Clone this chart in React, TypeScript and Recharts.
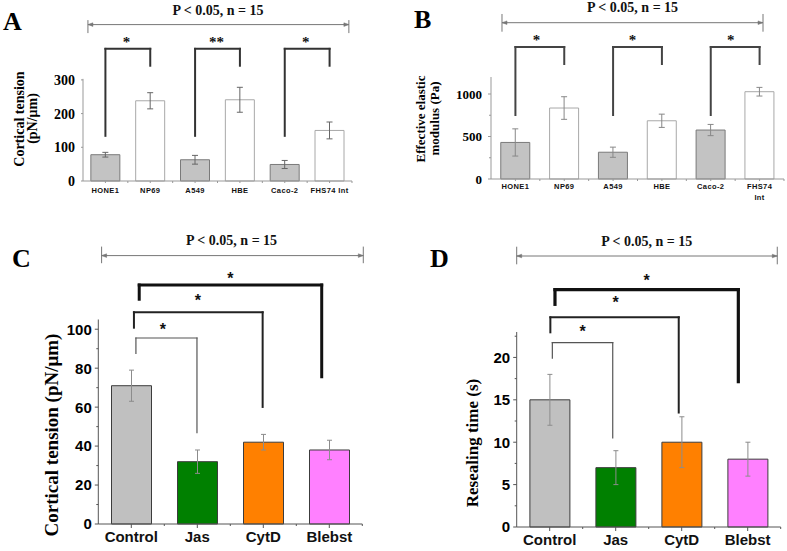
import React from 'react';
import { ComposedChart, Bar, Cell, ErrorBar, XAxis, YAxis, ReferenceLine, Scatter } from 'recharts';

// panel A: cortical tension of cell lines
const cellLinesA = ['HONE1', 'NP69', 'A549', 'HBE', 'Caco-2', 'FHS74 Int'];
const tensionA = [78, 238, 63, 241, 49, 150];
const tensionAErr = [7, 24, 13, 37, 12, 25];
const ticksA = [0, 100, 200, 300];

// panel B: effective elastic modulus
const cellLinesB = ['HONE1', 'NP69', 'A549', 'HBE', 'Caco-2', 'FHS74\nInt'];
const modulusB = [430, 835, 315, 685, 576, 1027];
const modulusBErr = [160, 133, 60, 78, 66, 51];
const ticksB = [0, 250, 500, 750, 1000];

// panels C and D: drug treatments
const treatments = ['Control', 'Jas', 'CytD', 'Blebst'];
const tensionC = [71, 32, 42, 38];
const tensionCErr = [8, 6, 4, 5];
const ticksC = [0, 10, 20, 30, 40, 50, 60, 70, 80, 90, 100];
const resealD = [15, 7, 10, 8];
const resealDErr = [3, 2, 3, 2];
const ticksD = [0, 2.5, 5, 7.5, 10, 12.5, 15, 17.5, 20, 22.5];

const pTitle = 'P < 0.05, n = 15';

const SERIF = '"Liberation Serif", "Times New Roman", serif';
const SANS = '"Liberation Sans", Arial, sans-serif';

const pairFills = ['#c3c3c3', '#ffffff', '#c3c3c3', '#ffffff', '#c3c3c3', '#ffffff'];
const pairStrokes = ['#7a7a7a', '#a8a8a8', '#7a7a7a', '#a8a8a8', '#7a7a7a', '#a8a8a8'];
const drugFills = ['#c0c0c0', '#008000', '#ff8000', '#ff80ff'];
const drugStrokes = ['#3c3c3c', '#3c3c3c', '#3c3c3c', '#3c3c3c'];

const rows = (names: string[], vals: number[], errs: number[]) =>
  names.map((name, i) => ({ name, value: vals[i], err: errs[i] }));

type Bracket = { xa: number; xb: number; ya: number; yb: number; top: number; w: number; color: string };
type Mark = { x: number; y: number; label: string };

// significance brackets, in axis units (x: category index, y: value units)
const bracketsA: Bracket[] = [
  { xa: 0, xb: 1, ya: 134, yb: 342, top: 392, w: 2, color: '#333' },
  { xa: 2, xb: 3, ya: 134, yb: 342, top: 392, w: 2, color: '#333' },
  { xa: 4, xb: 5, ya: 134, yb: 342, top: 392, w: 2, color: '#333' },
];
const starsA: Mark[] = [
  { x: 0.47, y: 418, label: '*' },
  { x: 2.48, y: 418, label: '**' },
  { x: 4.47, y: 418, label: '*' },
];
const bracketsB: Bracket[] = [
  { xa: 0, xb: 1, ya: 753, yb: 1353, top: 1553, w: 2, color: '#444' },
  { xa: 2, xb: 3, ya: 753, yb: 1353, top: 1553, w: 2, color: '#444' },
  { xa: 4, xb: 5, ya: 753, yb: 1353, top: 1553, w: 2, color: '#444' },
];
const starsB: Mark[] = [
  { x: 0.43, y: 1658, label: '*' },
  { x: 2.4, y: 1658, label: '*' },
  { x: 4.41, y: 1658, label: '*' },
];
const bracketsC: Bracket[] = [
  { xa: 0.07, xb: 0.995, ya: 87.6, yb: 46.9, top: 95.5, w: 1.2, color: '#555' },
  { xa: 0.04, xb: 1.99, ya: 100.8, yb: 60.1, top: 108.7, w: 2, color: '#222' },
  { xa: 0.12, xb: 2.885, ya: 115.4, yb: 75.6, top: 122.7, w: 3, color: '#111' },
];
const starsC: Mark[] = [
  { x: 0.48, y: 101.8, label: '*' },
  { x: 1.01, y: 116.7, label: '*' },
  { x: 1.5, y: 127.8, label: '*' },
];
const bracketsD: Bracket[] = [
  { xa: 0.04, xb: 0.955, ya: 19.9, yb: 10.5, top: 21.74, w: 1.2, color: '#555' },
  { xa: 0.01, xb: 1.955, ya: 22.96, yb: 13.5, top: 24.73, w: 2, color: '#222' },
  { xa: 0.08, xb: 2.858, ya: 26.26, yb: 17.14, top: 27.99, w: 3.2, color: '#111' },
];
const starsD: Mark[] = [
  { x: 0.5, y: 23.43, label: '*' },
  { x: 1.0, y: 26.85, label: '*' },
  { x: 1.47, y: 29.45, label: '*' },
];

const arrowShape = (up: number, down: number) => (p: any) => {
  const { x1, y1, x2, y2 } = p;
  return (
    <g stroke="#777" strokeWidth={1} fill="#777">
      <line x1={x1} y1={y1} x2={x2} y2={y2} />
      <line x1={x1} y1={y1 - up} x2={x1} y2={y1 + down} />
      <line x1={x2} y1={y2 - up} x2={x2} y2={y2 + down} />
      <path d={`M${x1},${y1} l5,-1.8 v3.6 z`} strokeWidth={0.5} />
      <path d={`M${x2},${y2} l-5,-1.8 v3.6 z`} strokeWidth={0.5} />
    </g>
  );
};

type YTickOpts = { major: (v: number) => boolean; majorLen: number; minorLen: number; gap: number; font: string; size: number; color: string };
const makeYTick = (o: YTickOpts) => (p: any) => {
  const v = p.payload.value;
  const isMaj = o.major(v);
  const len = isMaj ? o.majorLen : o.minorLen;
  return (
    <g>
      {len > 0 && <line x1={p.x} x2={p.x - len} y1={p.y} y2={p.y} stroke={o.color} strokeWidth={1} />}
      {isMaj && (
        <text x={p.x - o.majorLen - o.gap} y={p.y} dy="0.36em" textAnchor="end" fontFamily={o.font} fontWeight="bold" fontSize={o.size} fill="#000">
          {v}
        </text>
      )}
    </g>
  );
};

type XTickOpts = { n: number; bw: number; majorLen: number; minorLen: number; dy: number; lineH: number; font: string; size: number; spacing: number; color: string };
const makeXTick = (o: XTickOpts) => (p: any) => {
  const { x, y, payload, index } = p;
  const lines = String(payload.value).split('\n');
  return (
    <g>
      <line x1={x} x2={x} y1={y} y2={y + o.majorLen} stroke={o.color} />
      {index > 0 && <line x1={x - o.bw / 2} x2={x - o.bw / 2} y1={y} y2={y + o.minorLen} stroke={o.color} />}
      {index === o.n - 1 && <line x1={x + o.bw / 2} x2={x + o.bw / 2} y1={y} y2={y + o.minorLen} stroke={o.color} />}
      <text x={x} y={y + o.dy} textAnchor="middle" fontFamily={o.font} fontWeight="bold" fontSize={o.size} letterSpacing={o.spacing} fill="#111">
        {lines.map((l, i) => (
          <tspan key={i} x={x} dy={i ? o.lineH : 0}>{l}</tspan>
        ))}
      </text>
    </g>
  );
};

type PanelCfg = {
  left: number; top: number; width: number; height: number;
  yWidth: number; xHeight: number; mr: number; gap: string;
  data: { name: string; value: number; err: number }[];
  fills: string[]; strokes: string[]; errColor: string; errWidth: number;
  yMax: number; axisTop: number; axisColor: string;
  yTick: (p: any) => React.ReactElement; xTick: (p: any) => React.ReactElement;
  ticks: number[];
  brackets: Bracket[]; stars: Mark[]; starFont: string; starSize: number; starShift: number;
  title: Mark; arrow: { x0: number; x1: number; y: number; up: number; down: number };
};

function Panel(c: PanelCfg) {
  const n = c.data.length;
  const titleShape = (p: any) => (
    <text x={p.cx} y={p.cy + 4.9} textAnchor="middle" fontFamily={SERIF} fontWeight="bold" fontSize={14} fill="#111">
      {p.payload.label}
    </text>
  );
  const starShape = (p: any) => (
    <text x={p.cx} y={p.cy + c.starShift} textAnchor="middle" fontFamily={c.starFont} fontWeight="bold" fontSize={c.starSize} fill="#111">
      {p.payload.label}
    </text>
  );
  return (
    <div style={{ position: 'absolute', left: c.left, top: c.top }}>
      <ComposedChart width={c.width} height={c.height} data={c.data} margin={{ top: 0, right: c.mr, bottom: 0, left: 0 }} barCategoryGap={c.gap}>
        <XAxis xAxisId="cat" dataKey="name" height={c.xHeight} interval={0} tickSize={0} tickMargin={0} tickLine={false}
          axisLine={{ stroke: c.axisColor }} tick={c.xTick} />
        <XAxis xAxisId="num" type="number" dataKey="x" domain={[-0.5, n - 0.5]} hide />
        <YAxis domain={[0, c.yMax]} ticks={c.ticks} width={c.yWidth} interval={0} tickSize={0} tickMargin={0} tickLine={false}
          axisLine={false} tick={c.yTick} />
        <Bar xAxisId="cat" dataKey="value" strokeWidth={1} isAnimationActive={false}>
          {c.data.map((d, i) => (
            <Cell key={d.name} fill={c.fills[i]} stroke={c.strokes[i]} />
          ))}
          <ErrorBar dataKey="err" width={c.errWidth} stroke={c.errColor} strokeWidth={1} />
        </Bar>
        <ReferenceLine xAxisId="num" ifOverflow="visible" stroke={c.axisColor} strokeWidth={1}
          segment={[{ x: -0.5, y: 0 }, { x: -0.5, y: c.axisTop }]} />
        {c.brackets.flatMap((b, i) => [
          <ReferenceLine key={`a${i}`} xAxisId="num" ifOverflow="visible" stroke={b.color} strokeWidth={b.w} strokeLinecap="square"
            segment={[{ x: b.xa, y: b.ya }, { x: b.xa, y: b.top }]} />,
          <ReferenceLine key={`b${i}`} xAxisId="num" ifOverflow="visible" stroke={b.color} strokeWidth={b.w} strokeLinecap="square"
            segment={[{ x: b.xa, y: b.top }, { x: b.xb, y: b.top }]} />,
          <ReferenceLine key={`c${i}`} xAxisId="num" ifOverflow="visible" stroke={b.color} strokeWidth={b.w} strokeLinecap="square"
            segment={[{ x: b.xb, y: b.top }, { x: b.xb, y: b.yb }]} />,
        ])}
        <ReferenceLine xAxisId="num" ifOverflow="visible" shape={arrowShape(c.arrow.up, c.arrow.down)}
          segment={[{ x: c.arrow.x0, y: c.arrow.y }, { x: c.arrow.x1, y: c.arrow.y }]} />
        <Scatter xAxisId="num" data={c.stars} dataKey="y" shape={starShape} isAnimationActive={false} />
        <Scatter xAxisId="num" data={[c.title]} dataKey="y" shape={titleShape} isAnimationActive={false} />
      </ComposedChart>
    </div>
  );
}

const abXTick = (n: number, bw: number, dy: number) =>
  makeXTick({ n, bw, majorLen: 2, minorLen: 2, dy, lineH: 11, font: SANS, size: 7.5, spacing: 0.4, color: '#999' });
const cdXTick = makeXTick({ n: 4, bw: 66, majorLen: 4, minorLen: 2, dy: 18, lineH: 16, font: SANS, size: 15, spacing: 0, color: '#555' });

export default function App() {
  return (
    <div style={{ position: 'absolute', left: 0, top: 0, width: 787, height: 551, background: '#fff', overflow: 'hidden' }}>
      <Panel
        left={0} top={0} width={360} height={200} yWidth={83} xHeight={19} mr={8} gap="17.5%"
        data={rows(cellLinesA, tensionA, tensionAErr)} fills={pairFills} strokes={pairStrokes} errColor="#666" errWidth={3}
        yMax={537} axisTop={303} axisColor="#999" ticks={ticksA}
        yTick={makeYTick({ major: () => true, majorLen: 2, minorLen: 0, gap: 6, font: SERIF, size: 14, color: '#999' })}
        xTick={abXTick(6, 44.83, 12)}
        brackets={bracketsA} stars={starsA} starFont={SERIF} starSize={15} starShift={7.2}
        title={{ x: 2.51, y: 507, label: pTitle }} arrow={{ x0: -0.39, x1: 5.43, y: 464, up: 4.5, down: 8.5 }}
      />
      <Panel
        left={400} top={0} width={387} height={211} yWidth={91} xHeight={32} mr={3} gap="20%"
        data={rows(cellLinesB, modulusB, modulusBErr)} fills={pairFills} strokes={pairStrokes} errColor="#888" errWidth={3}
        yMax={2106} axisTop={1200} axisColor="#999" ticks={ticksB}
        yTick={makeYTick({ major: (v) => v % 500 === 0, majorLen: 3, minorLen: 2, gap: 6, font: SERIF, size: 13, color: '#999' })}
        xTick={abXTick(6, 48.83, 9.5)}
        brackets={bracketsB} stars={starsB} starFont={SERIF} starSize={15} starShift={7.2}
        title={{ x: 2.4, y: 2020, label: pTitle }} arrow={{ x0: -0.275, x1: 5.07, y: 1839, up: 8.7, down: 9 }}
      />
      <Panel
        left={0} top={226} width={370} height={323} yWidth={98.3} xHeight={25} mr={7.7} gap="20%"
        data={rows(treatments, tensionC, tensionCErr)} fills={drugFills} strokes={drugStrokes} errColor="#8c8c8c" errWidth={2.5}
        yMax={153} axisTop={105} axisColor="#555" ticks={ticksC}
        yTick={makeYTick({ major: (v) => v % 20 === 0, majorLen: 3.5, minorLen: 2, gap: 3, font: SANS, size: 15, color: '#555' })}
        xTick={cdXTick}
        brackets={bracketsC} stars={starsC} starFont={SANS} starSize={16} starShift={8.8}
        title={{ x: 1.52, y: 145.8, label: pTitle }} arrow={{ x0: -0.45, x1: 3.515, y: 137.8, up: 9, down: 7.6 }}
      />
      <Panel
        left={420} top={226} width={367} height={325} yWidth={96.7} xHeight={24} mr={6.3} gap="20%"
        data={rows(treatments, resealD, resealDErr)} fills={drugFills} strokes={drugStrokes} errColor="#8c8c8c" errWidth={2.5}
        yMax={35.5} axisTop={23} axisColor="#555" ticks={ticksD}
        yTick={makeYTick({ major: (v) => v % 5 === 0, majorLen: 3.5, minorLen: 2, gap: 3, font: SANS, size: 15, color: '#555' })}
        xTick={cdXTick}
        brackets={bracketsD} stars={starsD} starFont={SANS} starSize={16} starShift={8.8}
        title={{ x: 1.47, y: 33.77, label: pTitle }} arrow={{ x0: -0.5, x1: 3.448, y: 31.96, up: 9.3, down: 8.3 }}
      />
      <svg width={787} height={551} style={{ position: 'absolute', left: 0, top: 0, pointerEvents: 'none' }}>
        <g fontFamily={SERIF} fontWeight="bold" fontSize={26} fill="#000">
          <text x={3} y={30}>A</text>
          <text x={414} y={28}>B</text>
          <text x={12} y={267}>C</text>
          <text x={430} y={267}>D</text>
        </g>
        <g fontFamily={SERIF} fontWeight="bold" fill="#000" textAnchor="middle">
          <text fontSize={14} transform="translate(23.6,119) rotate(-90)">Cortical tension</text>
          <text fontSize={14} transform="translate(36.5,118.5) rotate(-90)">(pN/μm)</text>
          <text fontSize={13} transform="translate(425,119) rotate(-90)">Effective elastic</text>
          <text fontSize={13} transform="translate(439.3,118.5) rotate(-90)">modulus (Pa)</text>
          <text fontSize={19} transform="translate(57.8,435) rotate(-90)">Cortical tension (pN/μm)</text>
          <text fontSize={17} transform="translate(477.5,443) rotate(-90)">Resealing time (s)</text>
        </g>
      </svg>
    </div>
  );
}
